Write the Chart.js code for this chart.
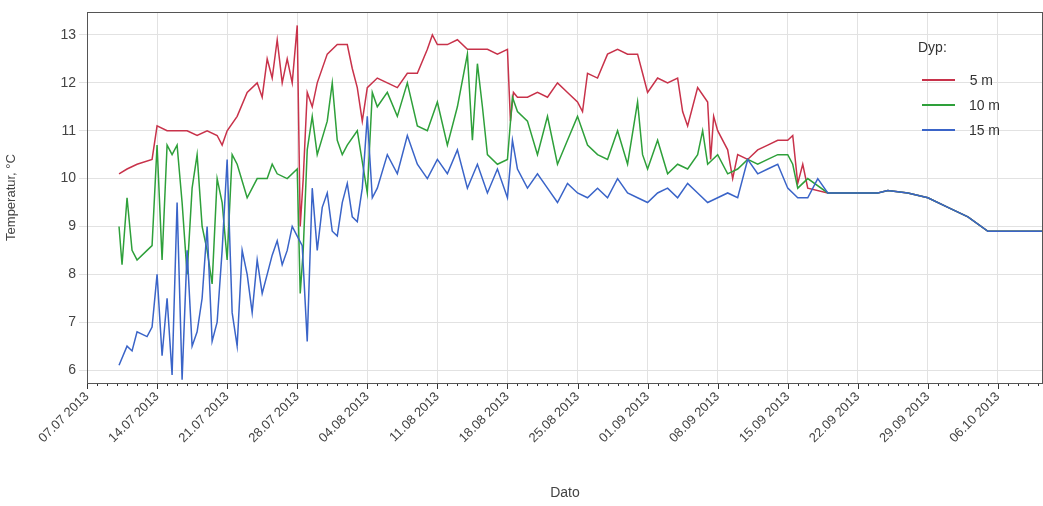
<!DOCTYPE html>
<html><head><meta charset="utf-8">
<script src="https://cdn.jsdelivr.net/npm/chart.js@4"></script>
<style>html,body{margin:0;padding:0;background:#fff}#w{width:1043px;height:506px}</style>
</head><body><div id="w"><canvas id="c"></canvas></div>
<script>
const startDate = new Date(2013,6,7);
const tickDays = [0,7,14,21,28,35,42,49,56,63,70,77,84,91];
const t5 = [3.2,4,5,6.5,7,8,9,10,11,12,13,13.5,14,15,16,17,17.5,18,18.5,19,19.5,20,20.5,21,21.3,21.6,22,22.5,23,24,25,26,26.5,27,27.5,28,29,30,31,32,33,34,34.5,35,36,37,38,39,40,41,42,42.3,42.6,43,44,45,46,47,48,49,49.5,50,51,52,53,54,55,55.5,56,57,58,59,59.5,60,61,62,62.3,62.6,63,64,64.5,65,66,67,68,69,70,70.5,71,71.5,72,74,76,78,79,80,82,84,86,88,90,92,95.5];
const v5 = [10.1,10.2,10.3,10.4,11.1,11,11,11,10.9,11,10.9,10.7,11,11.3,11.8,12,11.7,12.5,12.1,12.9,12,12.5,12,13.2,9,10,11.8,11.5,12,12.6,12.8,12.8,12.3,11.9,11.2,11.9,12.1,12,11.9,12.2,12.2,12.7,13,12.8,12.8,12.9,12.7,12.7,12.7,12.6,12.7,11.2,11.8,11.7,11.7,11.8,11.7,12,11.8,11.6,11.4,12.2,12.1,12.6,12.7,12.6,12.6,12.2,11.8,12.1,12,12.1,11.4,11.1,11.9,11.6,10.4,11.3,11,10.6,10,10.5,10.4,10.6,10.7,10.8,10.8,10.9,9.9,10.3,9.8,9.7,9.7,9.7,9.7,9.75,9.7,9.6,9.4,9.2,8.9,8.9,8.9,9];
const t10 = [3.2,3.5,4,4.5,5,6,6.5,7,7.5,8,8.5,9,9.5,10,10.5,11,11.5,12,12.5,13,13.5,14,14.5,15,16,17,18,18.5,19,20,21,21.3,21.6,22,22.5,23,24,24.5,25,25.5,26,27,28,28.5,29,30,31,32,33,34,35,36,37,38,38.5,39,39.5,40,41,42,42.5,43,44,45,46,47,48,49,50,51,52,53,54,55,55.5,56,57,58,59,60,61,61.5,62,63,64,65,66,67,68,69,70,70.5,71,72,74,76,78,79,80,82,84,86,88,90,92,95.5];
const v10 = [9,8.2,9.6,8.5,8.3,8.5,8.6,10.7,8.3,10.7,10.5,10.7,9.5,8,9.8,10.5,9,8.5,7.8,10,9.5,8.3,10.5,10.3,9.6,10,10,10.3,10.1,10,10.2,7.6,8.5,10.6,11.3,10.5,11.2,12,10.8,10.5,10.7,11,9.7,11.8,11.5,11.8,11.3,12,11.1,11,11.6,10.7,11.5,12.6,10.8,12.4,11.5,10.5,10.3,10.4,11.7,11.4,11.2,10.5,11.3,10.3,10.8,11.3,10.7,10.5,10.4,11,10.3,11.6,10.5,10.2,10.8,10.1,10.3,10.2,10.5,11,10.3,10.5,10.1,10.2,10.4,10.3,10.4,10.5,10.5,10.3,9.8,10,9.7,9.7,9.7,9.7,9.75,9.7,9.6,9.4,9.2,8.9,8.9,8.9,9];
const t15 = [3.2,4,4.5,5,6,6.5,7,7.5,8,8.5,9,9.5,10,10.5,11,11.5,12,12.5,13,13.5,14,14.5,15,15.5,16,16.5,17,17.5,18,18.5,19,19.5,20,20.5,21,21.5,22,22.5,23,23.5,24,24.5,25,25.5,26,26.5,27,27.5,28,28.5,29,30,31,32,33,34,35,36,37,38,39,40,41,42,42.5,43,44,45,46,47,48,49,50,51,52,53,54,55,56,57,58,59,60,61,62,63,64,65,66,67,68,69,70,71,72,73,74,76,78,79,80,82,84,86,88,90,92,95.5];
const v15 = [6.1,6.5,6.4,6.8,6.7,6.9,8,6.3,7.5,5.9,9.5,5.8,8.5,6.5,6.8,7.5,9,6.6,7,8.5,10.4,7.2,6.5,8.5,8,7.2,8.3,7.6,8,8.4,8.7,8.2,8.5,9,8.8,8.6,6.6,9.8,8.5,9.4,9.7,8.9,8.8,9.5,9.9,9.2,9.1,9.8,11.3,9.6,9.8,10.5,10.1,10.9,10.3,10,10.4,10.1,10.6,9.8,10.3,9.7,10.2,9.6,10.8,10.2,9.8,10.1,9.8,9.5,9.9,9.7,9.6,9.8,9.6,10,9.7,9.6,9.5,9.7,9.8,9.6,9.9,9.7,9.5,9.6,9.7,9.6,10.4,10.1,10.2,10.3,9.8,9.6,9.6,10,9.7,9.7,9.7,9.7,9.75,9.7,9.6,9.4,9.2,8.9,8.9,8.9,9];
const seriesNames = ['5 m','10 m','15 m'];
const colors = ['#c8324a','#2ea03a','#3a64c8'];
const pts = (t,v)=>t.map((x,i)=>({x, y:v[i]}));
const fmt = d=>{const dt=new Date(startDate.getTime()+d*86400000);const p=n=>String(n).padStart(2,'0');return p(dt.getDate())+'.'+p(dt.getMonth()+1)+' '+dt.getFullYear();};
const minor = {id:'minor',afterDraw(ch){const c=ch.ctx,x=ch.scales.x,a=ch.chartArea;c.save();c.strokeStyle='#333';c.lineWidth=1;for(let d=0;d<=x.max;d++){const px=Math.round(x.getPixelForValue(d))+.5;c.beginPath();c.moveTo(px,a.bottom);c.lineTo(px,a.bottom+(d%7===0?6:3));c.stroke();}
c.strokeStyle='#555';c.strokeRect(a.left+.5,a.top+.5,a.right-a.left-1,a.bottom-a.top);
c.fillStyle='#333';c.font='14px "Liberation Sans"';c.fillText('Dyp:',918,52);
seriesNames.forEach((n,i)=>{const y=80+i*25;c.strokeStyle=colors[i];c.lineWidth=2;c.beginPath();c.moveTo(922,y);c.lineTo(955,y);c.stroke();c.fillStyle='#333';c.textAlign='right';c.fillText(n,i?1000:993,y+5);c.textAlign='left';});
c.restore();}};
new Chart(document.getElementById('c'),{type:'line',
data:{datasets:[2,1,0].map(i=>({label:seriesNames[i],data:pts([t5,t10,t15][i],[v5,v10,v15][i]),borderColor:colors[i],borderWidth:1.5,pointRadius:0,tension:0}))},
options:{animation:false,responsive:true,maintainAspectRatio:false,layout:{padding:{top:12,right:0}},
plugins:{legend:{display:false},tooltip:{enabled:false}},
scales:{x:{type:'linear',min:0,max:95.5,afterFit(s){s.height=123;},
afterBuildTicks(s){s.ticks=tickDays.map(v=>({value:v}));},
grid:{color:'#e2e2e2',drawTicks:false},border:{display:false},
ticks:{callback:v=>fmt(v),maxRotation:45,minRotation:45,color:'#444',font:{size:13,family:'Liberation Sans'},padding:6},
title:{display:true,text:'Dato',color:'#444',font:{size:14,family:'Liberation Sans'}}},
y:{min:5.73,max:13.48,afterFit(s){s.width=87;},afterBuildTicks(s){s.ticks=[6,7,8,9,10,11,12,13].map(v=>({value:v}));},
grid:{color:'#e2e2e2'},border:{display:false},ticks:{color:'#444',font:{size:14,family:'Liberation Sans'}},
title:{display:true,text:'Temperatur, °C',color:'#444',font:{size:13,family:'Liberation Sans'}}}}},
plugins:[minor]});
</script></body></html>
